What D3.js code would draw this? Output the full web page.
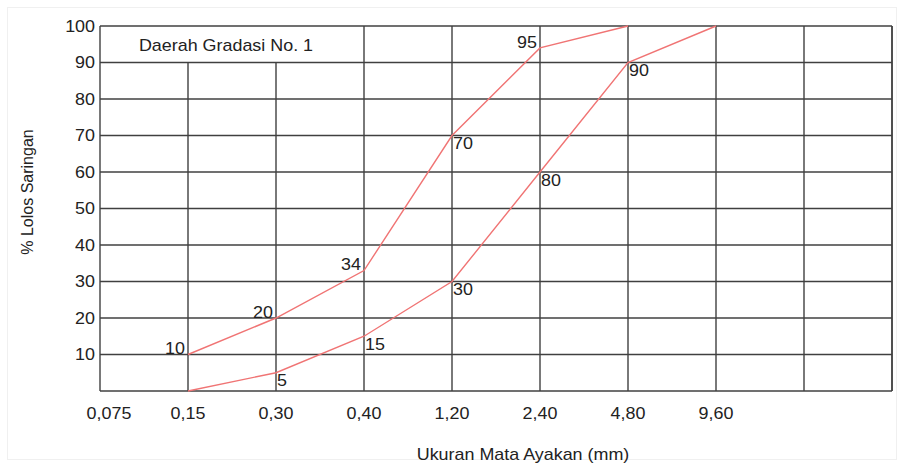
<!DOCTYPE html>
<html><head><meta charset="utf-8">
<script src="https://cdn.jsdelivr.net/npm/d3@7"></script>
<style>body{margin:0;background:#fff}svg text{font-family:"Liberation Sans",Arial,sans-serif;fill:#222}</style>
</head><body><svg id="c" width="900" height="466"></svg>
<script>
const categories = ["0,075","0,15","0,30","0,40","1,20","2,40","4,80","9,60","",""];
const yTicks = [10,20,30,40,50,60,70,80,90,100];
const upperX = ["0,15","0,30","0,40","1,20","2,40","4,80"];
const upperY = [10,20,33,70,94,100];
const upperLabels = ["10","20","34","70","95",""];
const lowerX = ["0,15","0,30","0,40","1,20","2,40","4,80","9,60"];
const lowerY = [0,5,15,30,60,90,100];
const lowerLabels = ["","5","15","30","80","90",""];
const title = "Daerah Gradasi No. 1";
const xTitle = "Ukuran Mata Ayakan (mm)";
const yTitle = "% Lolos Saringan";

const svg = d3.select("#c");
const L=100,R=892,T=26,B=391;
const x = d3.scalePoint().domain(categories.map((d,i)=>i)).range([L,R]);
const y = d3.scaleLinear().domain([0,100]).range([B,T]);
const xc = c => x(categories.indexOf(c));
const SX = 1.12, FS = 16;

function label(px, py, txt, anchor, sx){
  return svg.append("text").attr("transform",`translate(${px},${py}) scale(${sx||SX},1)`)
    .attr("dy","0.35em").attr("text-anchor",anchor).attr("font-size",FS).text(txt);
}

// faint outer frame
svg.append("rect").attr("x",7.5).attr("y",7.5).attr("width",889).attr("height",452).attr("fill","none").attr("stroke","#f0f0f0");

const g = svg.append("g");
const gridColor="#404040", gw=1.4;
yTicks.concat([0]).forEach(v=>{
  g.append("line").attr("x1",L).attr("x2",R).attr("y1",y(v)).attr("y2",y(v)).attr("stroke",gridColor).attr("stroke-width",gw);
});
categories.forEach((c,i)=>{
  const top = (i===1||i===2) ? y(90) : T;
  g.append("line").attr("x1",x(i)).attr("x2",x(i)).attr("y1",top).attr("y2",B).attr("stroke",gridColor).attr("stroke-width",gw);
});
g.append("line").attr("x1",R).attr("x2",R).attr("y1",T).attr("y2",B).attr("stroke",gridColor).attr("stroke-width",gw);

yTicks.forEach(d=>label(95, y(d), d, "end"));
categories.forEach((d,i)=>label(x(i)+(i===0?9:0), 413, d, "middle"));

label(523, 454, xTitle, "middle");
svg.append("text").attr("transform","translate(27,192) rotate(-90)").attr("dy","0.35em").attr("text-anchor","middle").attr("font-size",FS).text(yTitle);
label(226, 45, title, "middle");

const line = d3.line().x(d=>xc(d[0])).y(d=>y(d[1]));
const lc="#f07474";
svg.append("path").attr("d",line(upperX.map((c,i)=>[c,upperY[i]]))).attr("fill","none").attr("stroke",lc).attr("stroke-width",1.4);
svg.append("path").attr("d",line(lowerX.map((c,i)=>[c,lowerY[i]]))).attr("fill","none").attr("stroke",lc).attr("stroke-width",1.4);

upperX.forEach((c,i)=>{ if(!upperLabels[i]) return;
  if(i===3) label(xc(c)+1, y(upperY[i])+8, upperLabels[i], "start");
  else label(xc(c)-3, y(upperY[i])-6, upperLabels[i], "end");
});
lowerX.forEach((c,i)=>{ if(!lowerLabels[i]) return;
  label(xc(c)+1, y(lowerY[i])+8, lowerLabels[i], "start");
});
</script></body></html>
